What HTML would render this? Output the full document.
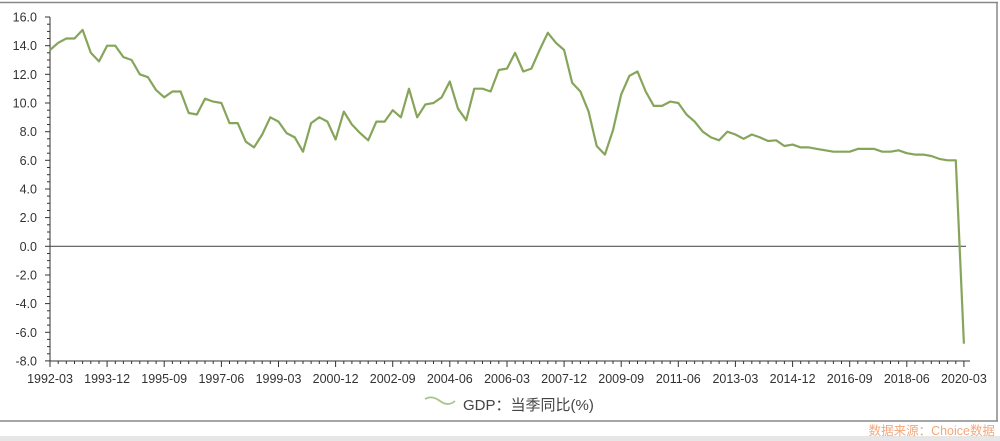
<!DOCTYPE html>
<html><head><meta charset="utf-8"><style>
html,body{margin:0;padding:0;background:#fff;}
svg{display:block;font-family:"Liberation Sans","Noto Sans CJK SC",sans-serif;}
</style></head><body>
<svg id="c" width="1000" height="441" viewBox="0 0 1000 441" xmlns="http://www.w3.org/2000/svg">
<rect x="0" y="436" width="1000" height="5" fill="#e6e6e6"/>
<line x1="0" y1="2.5" x2="998" y2="2.5" stroke="#888" stroke-width="1.5"/>
<line x1="0" y1="421" x2="998" y2="421" stroke="#888" stroke-width="1.5"/>
<line x1="997" y1="2" x2="997" y2="421" stroke="#888" stroke-width="1.5"/>
<g id="ax"></g>
<path d="M425 399 Q432 395 440 401 Q448 407 455 401" fill="none" stroke="#a9c48a" stroke-width="1.8"/>
<text x="463" y="410" font-size="15" fill="#444">GDP：当季同比(%)</text>
<text x="995" y="435" font-size="12.5" fill="#f5a77a" text-anchor="end">数据来源：Choice数据</text>
</svg>
<script>
var d=[13.7,14.2,14.5,14.5,15.1,13.5,12.9,14.0,14.0,13.2,13.0,12.0,11.8,10.9,10.4,10.8,10.8,9.3,9.2,10.3,10.1,10.0,8.6,8.6,7.3,6.9,7.8,9.0,8.7,7.9,7.6,6.6,8.6,9.0,8.7,7.45,9.4,8.5,7.9,7.4,8.7,8.7,9.5,9.0,11.0,9.0,9.9,10.0,10.4,11.5,9.6,8.8,11.0,11.0,10.8,12.3,12.4,13.5,12.2,12.4,13.7,14.9,14.2,13.7,11.4,10.8,9.4,7.0,6.4,8.1,10.6,11.9,12.2,10.8,9.8,9.8,10.1,10.0,9.2,8.7,8.0,7.6,7.4,8.0,7.8,7.5,7.8,7.6,7.35,7.4,7.0,7.1,6.9,6.9,6.8,6.7,6.6,6.6,6.6,6.8,6.8,6.8,6.6,6.6,6.7,6.5,6.4,6.4,6.3,6.1,6.0,6.0,-6.8];
var X0=50,DX=8.16,Y0=246.3,K=14.33;
function X(i){return X0+DX*i}function Y(v){return Y0-v*K}
var s='';
s+='<line x1="50" y1="17" x2="50" y2="361" stroke="#333" stroke-width="1"/>';
s+='<line x1="50" y1="361" x2="970" y2="361" stroke="#333" stroke-width="1"/>';
for(var v=-8;v<=16;v+=0.5){var y=Y(v).toFixed(1);var maj=(v%2==0);
s+='<line x1="'+(maj?45:47)+'" y1="'+y+'" x2="50" y2="'+y+'" stroke="#333" stroke-width="1"/>';
if(maj)s+='<text x="37" y="'+(Y(v)+4.5)+'" font-size="12.5" fill="#333" text-anchor="end">'+v.toFixed(1)+'</text>';}
var labs=['1992-03','1993-12','1995-09','1997-06','1999-03','2000-12','2002-09','2004-06','2006-03','2007-12','2009-09','2011-06','2013-03','2014-12','2016-09','2018-06','2020-03'];
for(var i=0;i<=112;i++){var x=X(i).toFixed(1);var maj=(i%7==0);
s+='<line x1="'+x+'" y1="361" x2="'+x+'" y2="'+(maj?367:364)+'" stroke="#333" stroke-width="1"/>';
if(maj)s+='<text x="'+x+'" y="383" font-size="12.5" fill="#333" text-anchor="middle">'+labs[i/7]+'</text>';}
s+='<line x1="50" y1="'+Y0+'" x2="966" y2="'+Y0+'" stroke="#555" stroke-width="1.2"/>';
var p='';for(var i=0;i<d.length;i++)p+=(i?'L':'M')+X(i).toFixed(1)+' '+Y(d[i]).toFixed(1);
s+='<path d="'+p+'" fill="none" stroke="#86a55a" stroke-width="2.2" stroke-linejoin="round"/>';
document.getElementById('ax').innerHTML=s;
</script>
</body></html>
